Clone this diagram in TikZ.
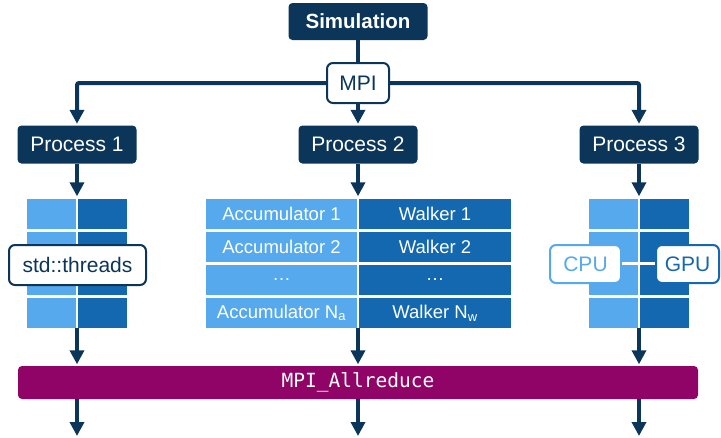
\documentclass[tikz,border=0pt]{standalone}
\usepackage{fontspec}
\setmainfont{Liberation Sans}
\newfontfamily\barmono{DejaVu Sans Mono}
\usetikzlibrary{arrows.meta}
\definecolor{navy}{HTML}{0B3559}
\definecolor{magentabar}{HTML}{8F0466}
\definecolor{lightblue}{HTML}{56A9EC}
\definecolor{darkblue}{HTML}{1468AF}
\begin{document}
\begin{tikzpicture}[x=1pt,y=-1pt,
  darkbox/.style={rectangle,fill=navy,rounded corners=4pt,text=white,inner sep=0pt,
    font=\fontsize{21}{25}\selectfont},
  whitebox/.style={rectangle,fill=white,draw=navy,line width=2pt,rounded corners=6pt,
    text=navy,inner sep=0pt,font=\fontsize{21}{25}\selectfont},
  conn/.style={draw=navy,line width=4pt,rounded corners=2pt},
  arr/.style={conn,-{Triangle[width=14pt,length=14pt]},shorten >=1.5pt},
  lcell/.style={rectangle,fill=lightblue,inner sep=0pt,text=white,
    font=\fontsize{18.5}{22}\selectfont},
  dcell/.style={rectangle,fill=darkblue,inner sep=0pt,text=white,
    font=\fontsize{18.5}{22}\selectfont},
  blockbox/.style={rectangle,inner sep=0pt,minimum height=130pt}
]
\useasboundingbox (0,0) rectangle (721,437);

% top
\node[darkbox,minimum width=139pt,minimum height=37pt,font=\fontsize{20.5}{24}\selectfont\bfseries] (sim) at (358,21.5) {Simulation};
\node[whitebox,minimum width=62pt,minimum height=40pt] (mpi) at (358,83) {MPI};

\node[darkbox,minimum width=119pt,minimum height=38pt] (p1) at (77,144.5) {Process 1};
\node[darkbox,minimum width=119pt,minimum height=38pt] (p2) at (358,144.5) {Process 2};
\node[darkbox,minimum width=119pt,minimum height=38pt] (p3) at (639,144.5) {Process 3};

% block outlines (invisible)
\node[blockbox,minimum width=100pt] (b1) at (77,263) {};
\node[blockbox,minimum width=305pt] (b2) at (358,263) {};
\node[blockbox,minimum width=100pt] (b3) at (639,263) {};

% block 1 cells
\foreach \y/\i in {214/1,247/2,280/3,313/4}{
  \node[lcell,minimum width=49pt,minimum height=30pt] (l1\i) at (51.5,\y) {};
  \node[dcell,minimum width=49pt,minimum height=30pt] (d1\i) at (102.5,\y) {};
}
% block 2 cells
\node[lcell,minimum width=151pt,minimum height=30pt] (acc1) at (281.5,214) {Accumulator 1};
\node[dcell,minimum width=152pt,minimum height=30pt] (wal1) at (435,214) {Walker 1};
\node[lcell,minimum width=151pt,minimum height=30pt] (acc2) at (281.5,247) {Accumulator 2};
\node[dcell,minimum width=152pt,minimum height=30pt] (wal2) at (435,247) {Walker 2};
\node[lcell,minimum width=151pt,minimum height=30pt] (acc3) at (281.5,280) {…};
\node[dcell,minimum width=152pt,minimum height=30pt] (wal3) at (435,280) {…};
\node[lcell,minimum width=151pt,minimum height=30pt] (acc4) at (281.5,313) {Accumulator N\textsubscript{a}};
\node[dcell,minimum width=152pt,minimum height=30pt] (wal4) at (435,313) {Walker N\textsubscript{w}};
% block 3 cells
\foreach \y/\i in {214/1,247/2,280/3,313/4}{
  \node[lcell,minimum width=49pt,minimum height=30pt] (l3\i) at (613.5,\y) {};
  \node[dcell,minimum width=49pt,minimum height=30pt] (d3\i) at (664.5,\y) {};
}

% overlay boxes
\node[whitebox,minimum width=137pt,minimum height=40pt] (thr) at (77.5,265) {std::threads};
\node[whitebox,draw=lightblue,text=lightblue,minimum width=71pt,minimum height=38pt] (cpu) at (585.5,264) {CPU};
\node[whitebox,draw=darkblue,text=darkblue,minimum width=63pt,minimum height=38pt] (gpu) at (687.5,264) {GPU};
\draw[white,line width=2pt] (cpu.east) -- (gpu.west);

% bar
\node[rectangle,fill=magentabar,rounded corners=4pt,minimum width=680pt,minimum height=33pt,
  inner sep=0pt,text=white,font=\barmono\fontsize{19.5}{23}\selectfont] (bar) at (358,382.5) {MPI\_Allreduce};

\coordinate (e1) at (77,436);
\coordinate (e2) at (358,436);
\coordinate (e3) at (639,436);

% connectors
\draw[conn] (sim.south) -- (mpi.north);
\draw[arr] (mpi.west) -| (p1.north);
\draw[arr] (mpi.east) -| (p3.north);
\draw[arr] (mpi.south) -- (p2.north);
\draw[arr] (p1.south) -- (b1.north);
\draw[arr] (p2.south) -- (b2.north);
\draw[arr] (p3.south) -- (b3.north);
\draw[arr] (b1.south) -- (b1.south |- bar.north);
\draw[arr] (b2.south) -- (b2.south |- bar.north);
\draw[arr] (b3.south) -- (b3.south |- bar.north);
\draw[arr,shorten >=0pt] (b1.south |- bar.south) -- (e1);
\draw[arr,shorten >=0pt] (b2.south |- bar.south) -- (e2);
\draw[arr,shorten >=0pt] (b3.south |- bar.south) -- (e3);
\end{tikzpicture}
\end{document}
